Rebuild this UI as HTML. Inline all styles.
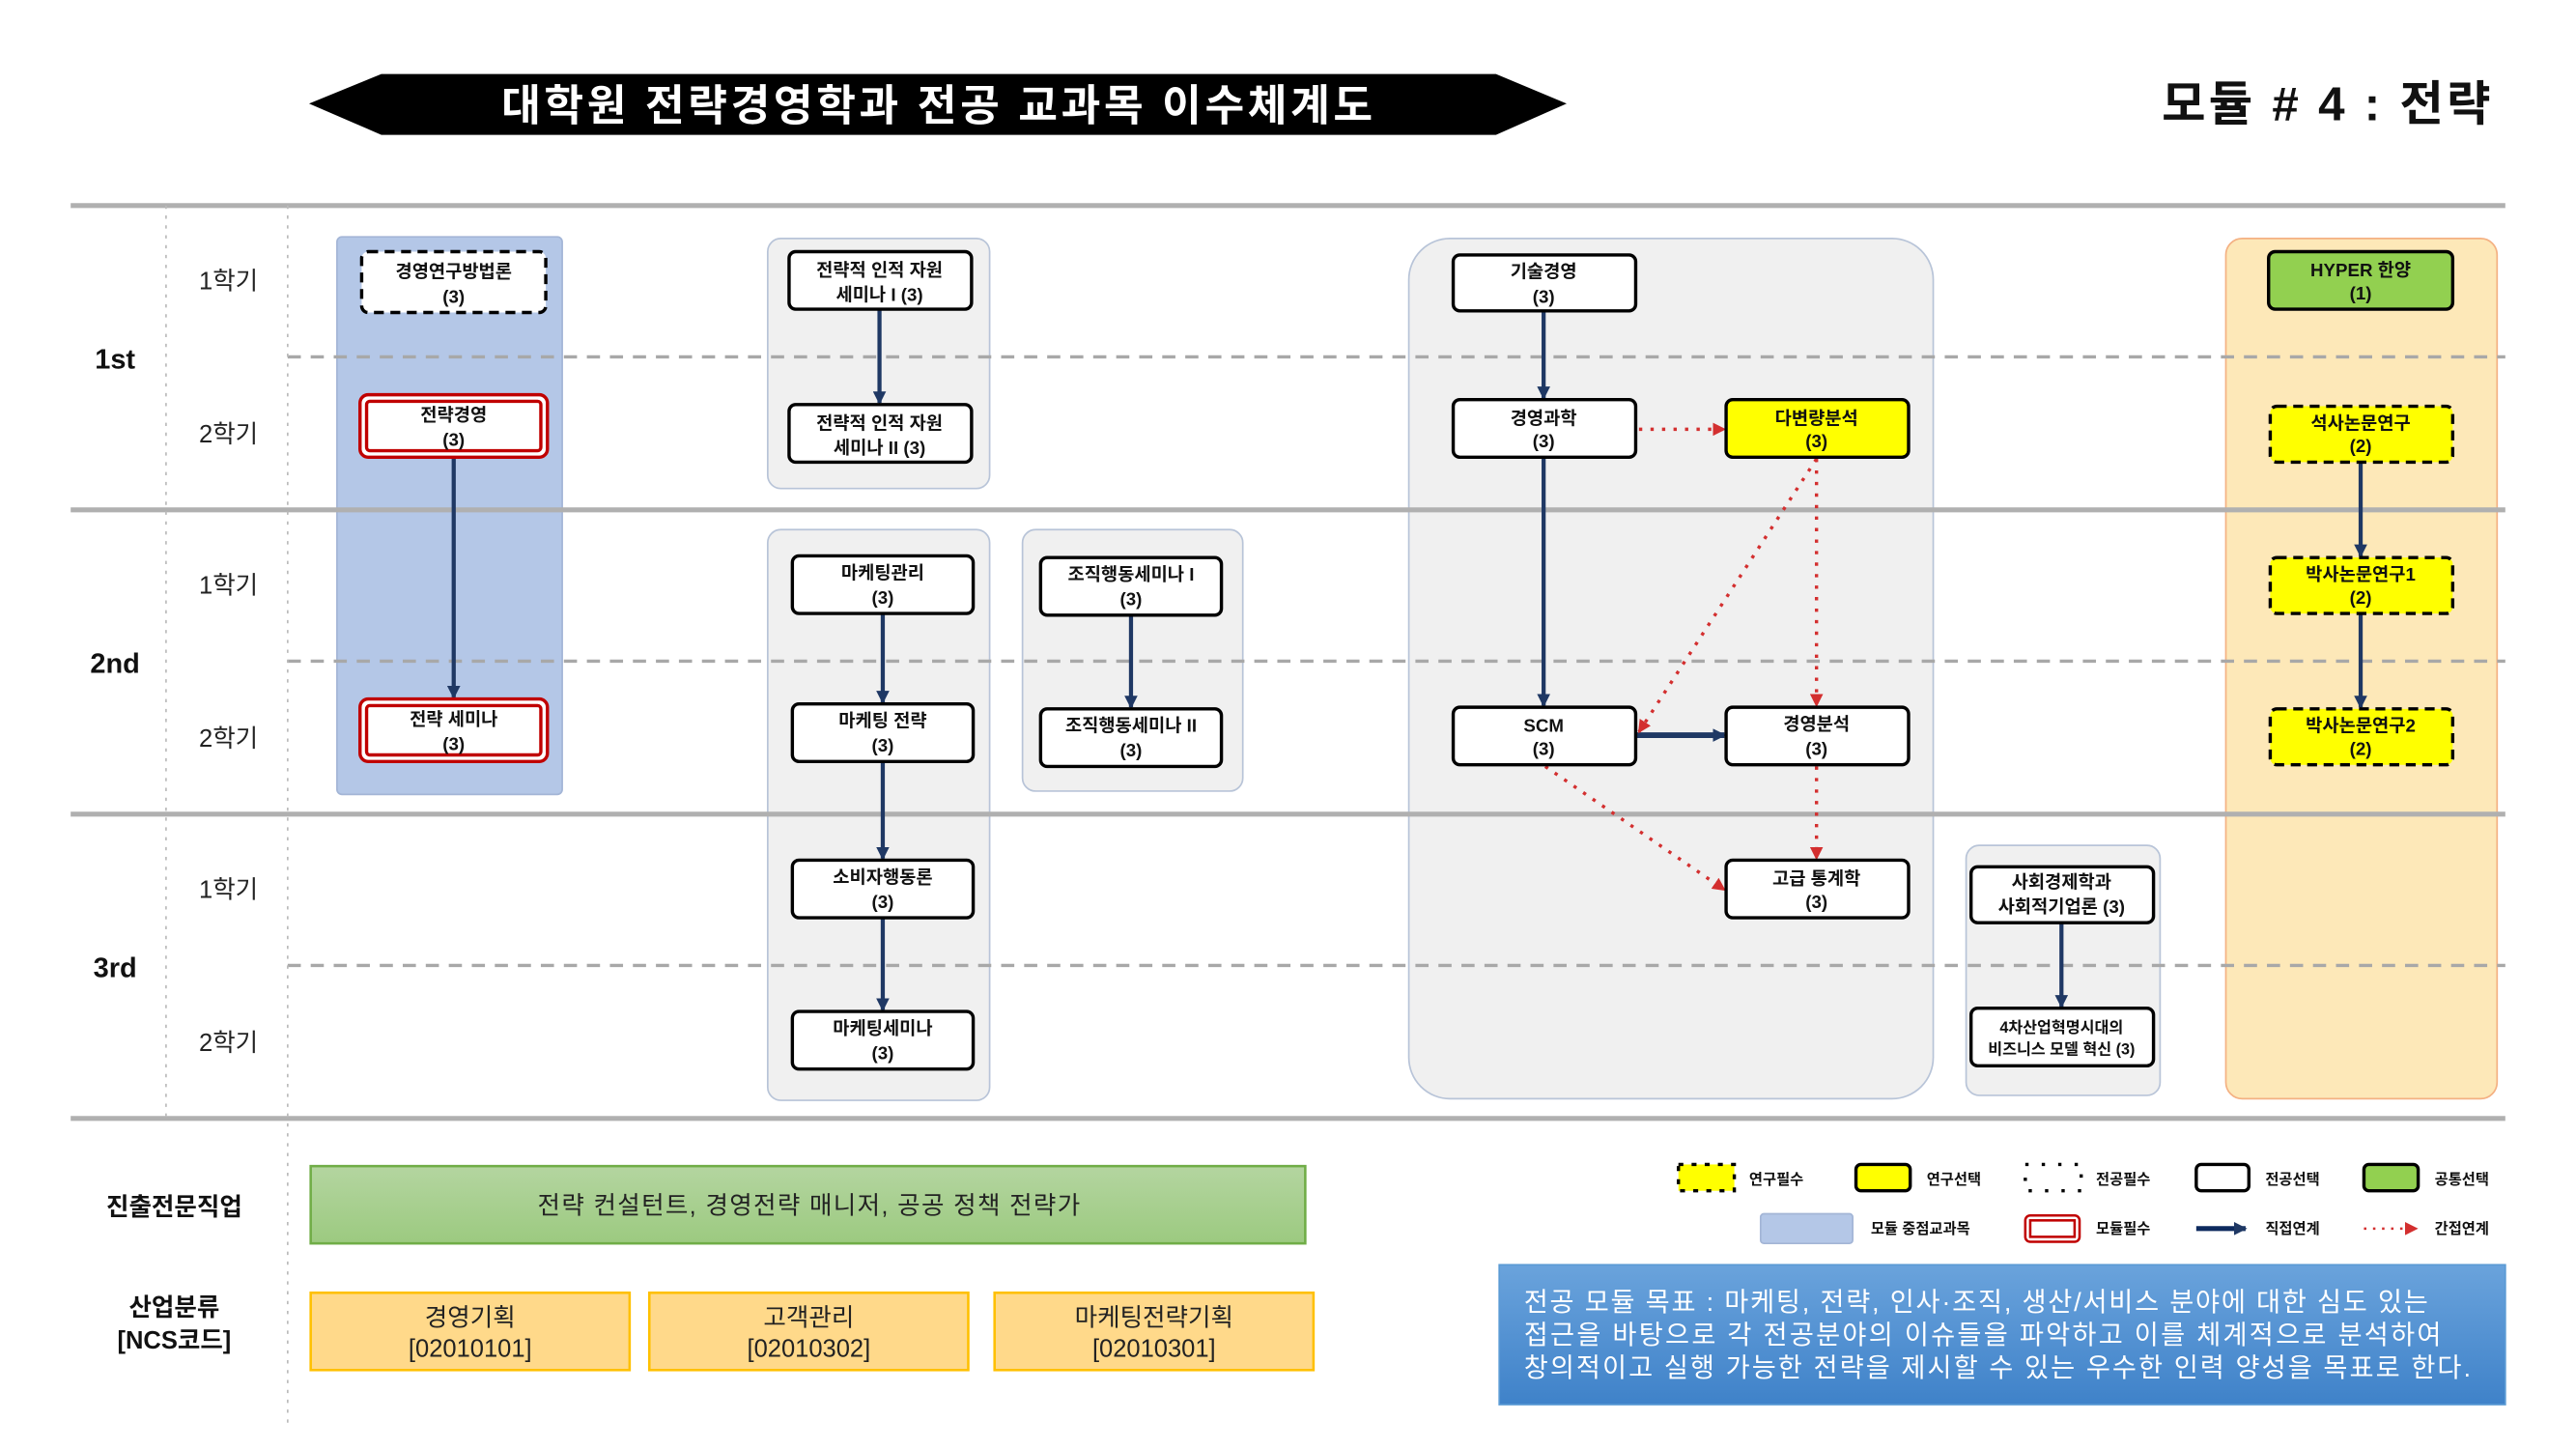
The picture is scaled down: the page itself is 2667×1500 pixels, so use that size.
<!DOCTYPE html>
<html><head><meta charset="utf-8"><style>
html,body{margin:0;padding:0;background:#fff;width:2667px;height:1500px;overflow:hidden}
svg{display:block}
text{font-family:"Liberation Sans","Noto Sans CJK KR",sans-serif}
.b{font-size:11px;font-weight:bold;text-anchor:middle;fill:#111}
.sem{font-size:15px;text-anchor:middle;fill:#222}
.yr{font-size:17px;font-weight:bold;text-anchor:middle;fill:#111}
.lg{font-size:9px;font-weight:bold;fill:#111}
</style></head><body>
<svg width="2667" height="1500" viewBox="0 0 1567 881" preserveAspectRatio="none">
<defs>
<marker id="ab" markerWidth="8" markerHeight="8" refX="7" refY="4" orient="auto" markerUnits="userSpaceOnUse"><path d="M0,0 L8,4 L0,8 z" fill="#1f3864"/></marker>
<marker id="ar" markerWidth="8" markerHeight="8" refX="7" refY="4" orient="auto" markerUnits="userSpaceOnUse"><path d="M0,0 L8,4 L0,8 z" fill="#d32f2f"/></marker>
<linearGradient id="gg" x1="0" y1="0" x2="0" y2="1"><stop offset="0" stop-color="#b4d5a0"/><stop offset="1" stop-color="#9cca80"/></linearGradient>
<linearGradient id="bg" x1="0" y1="0" x2="0" y2="1"><stop offset="0" stop-color="#6aa3dc"/><stop offset="1" stop-color="#3f82c9"/></linearGradient>
</defs>
<!-- title -->
<polygon points="188,63 232,45 910,45 953,63 910,82 232,82" fill="#000"/>
<text x="305" y="73" font-size="26" font-weight="bold" fill="#fff" textLength="530" lengthAdjust="spacing">대학원 전략경영학과  전공 교과목 이수체계도</text>
<text x="1315" y="73" font-size="29" font-weight="bold" fill="#111" textLength="200" lengthAdjust="spacing">모듈 # 4 : 전략</text>

<!-- groups -->
<rect x="205" y="144" width="137" height="339" rx="3" fill="#b4c7e7" stroke="#a3b5d6"/>
<rect x="467" y="145" width="135" height="152" rx="8" fill="#f0f0f0" stroke="#b8c4d8"/>
<rect x="467" y="322" width="135" height="347" rx="8" fill="#f0f0f0" stroke="#b8c4d8"/>
<rect x="622" y="322" width="134" height="159" rx="8" fill="#f0f0f0" stroke="#b8c4d8"/>
<rect x="857" y="145" width="319" height="523" rx="25" fill="#f0f0f0" stroke="#b8c4d8"/>
<rect x="1196" y="514" width="118" height="152" rx="8" fill="#f0f0f0" stroke="#b8c4d8"/>
<rect x="1354" y="145" width="165" height="523" rx="10" fill="#fde8b8" stroke="#f4b183"/>

<!-- grid lines -->
<g stroke="#b0b0b0" stroke-width="3">
<line x1="43" y1="125" x2="1524" y2="125"/><line x1="43" y1="310" x2="1524" y2="310"/>
<line x1="43" y1="495" x2="1524" y2="495"/><line x1="43" y1="680" x2="1524" y2="680"/>
</g>
<g stroke="#a8a8a8" stroke-width="2" stroke-dasharray="8,6">
<line x1="175" y1="217" x2="1524" y2="217"/><line x1="175" y1="402" x2="1524" y2="402"/><line x1="175" y1="587" x2="1524" y2="587"/>
</g>
<g stroke="#bbb" stroke-width="1" stroke-dasharray="2,4">
<line x1="101" y1="125" x2="101" y2="680"/><line x1="175" y1="125" x2="175" y2="865"/>
</g>
<text x="70" y="224" class="yr">1st</text><text x="70" y="409" class="yr">2nd</text><text x="70" y="594" class="yr">3rd</text>
<text x="139" y="176" class="sem">1학기</text><text x="139" y="269" class="sem">2학기</text>
<text x="139" y="361" class="sem">1학기</text><text x="139" y="454" class="sem">2학기</text>
<text x="139" y="546" class="sem">1학기</text><text x="139" y="639" class="sem">2학기</text>

<!-- arrows solid -->
<g stroke="#1f3864" stroke-width="2.5" fill="none" marker-end="url(#ab)">
<line x1="276" y1="278" x2="276" y2="424"/>
<line x1="535" y1="188" x2="535" y2="245"/>
<line x1="537" y1="373" x2="537" y2="427"/>
<line x1="537" y1="463" x2="537" y2="522"/>
<line x1="537" y1="558" x2="537" y2="614"/>
<line x1="688" y1="374" x2="688" y2="430"/>
<line x1="939" y1="189" x2="939" y2="242"/>
<line x1="939" y1="278" x2="939" y2="429"/>
<line x1="995" y1="447" x2="1049" y2="447" stroke-width="3.5"/>
<line x1="1254" y1="561" x2="1254" y2="612"/>
<line x1="1436" y1="281" x2="1436" y2="338"/>
<line x1="1436" y1="373" x2="1436" y2="430"/>
</g>
<!-- arrows dotted -->
<g stroke="#d32f2f" stroke-width="2" stroke-dasharray="2,5" fill="none" marker-end="url(#ar)">
<line x1="997" y1="261" x2="1049" y2="261"/>
<line x1="1105" y1="279" x2="997" y2="445"/>
<line x1="1105" y1="279" x2="1105" y2="429"/>
<line x1="940" y1="466" x2="1049" y2="541"/>
<line x1="1105" y1="466" x2="1105" y2="522"/>
</g>

<!-- boxes -->
<g stroke="#000" stroke-width="2">
<rect x="220" y="153" width="112" height="37" rx="4" fill="#fff" stroke-dasharray="6,4"/>
<rect x="219" y="240" width="114" height="38" rx="5" fill="#fff" stroke="#c00000" stroke-width="2"/>
<rect x="223" y="244" width="106" height="30" rx="2" fill="#fff" stroke="#c00000" stroke-width="2"/>
<rect x="219" y="425" width="114" height="38" rx="5" fill="#fff" stroke="#c00000" stroke-width="2"/>
<rect x="223" y="429" width="106" height="30" rx="2" fill="#fff" stroke="#c00000" stroke-width="2"/>
<rect x="480" y="153" width="111" height="35" rx="4" fill="#fff"/>
<rect x="480" y="246" width="111" height="35" rx="4" fill="#fff"/>
<rect x="482" y="338" width="110" height="35" rx="4" fill="#fff"/>
<rect x="482" y="428" width="110" height="35" rx="4" fill="#fff"/>
<rect x="482" y="523" width="110" height="35" rx="4" fill="#fff"/>
<rect x="482" y="615" width="110" height="35" rx="4" fill="#fff"/>
<rect x="633" y="339" width="110" height="35" rx="4" fill="#fff"/>
<rect x="633" y="431" width="110" height="35" rx="4" fill="#fff"/>
<rect x="884" y="155" width="111" height="34" rx="4" fill="#fff"/>
<rect x="884" y="243" width="111" height="35" rx="4" fill="#fff"/>
<rect x="1050" y="243" width="111" height="35" rx="4" fill="#ffff00"/>
<rect x="884" y="430" width="111" height="35" rx="4" fill="#fff"/>
<rect x="1050" y="430" width="111" height="35" rx="4" fill="#fff"/>
<rect x="1050" y="523" width="111" height="35" rx="4" fill="#fff"/>
<rect x="1199" y="527" width="111" height="34" rx="4" fill="#fff"/>
<rect x="1199" y="613" width="111" height="35" rx="4" fill="#fff"/>
<rect x="1380" y="153" width="112" height="35" rx="4" fill="#92d050"/>
<rect x="1381" y="247" width="111" height="34" rx="4" fill="#ffff00" stroke-dasharray="6,4"/>
<rect x="1381" y="339" width="111" height="34" rx="4" fill="#ffff00" stroke-dasharray="6,4"/>
<rect x="1381" y="431" width="111" height="34" rx="4" fill="#ffff00" stroke-dasharray="6,4"/>
</g>
<g class="b">
<text x="276" y="169" class="b">경영연구방법론</text><text x="276" y="184" class="b">(3)</text>
<text x="276" y="256" class="b">전략경영</text><text x="276" y="271" class="b">(3)</text>
<text x="276" y="441" class="b">전략 세미나</text><text x="276" y="456" class="b">(3)</text>
<text x="535" y="168" class="b">전략적 인적 자원</text><text x="535" y="183" class="b">세미나 I (3)</text>
<text x="535" y="261" class="b">전략적 인적 자원</text><text x="535" y="276" class="b">세미나 II (3)</text>
<text x="537" y="352" class="b">마케팅관리</text><text x="537" y="367" class="b">(3)</text>
<text x="537" y="442" class="b">마케팅 전략</text><text x="537" y="457" class="b">(3)</text>
<text x="537" y="537" class="b">소비자행동론</text><text x="537" y="552" class="b">(3)</text>
<text x="537" y="629" class="b">마케팅세미나</text><text x="537" y="644" class="b">(3)</text>
<text x="688" y="353" class="b">조직행동세미나 I</text><text x="688" y="368" class="b">(3)</text>
<text x="688" y="445" class="b">조직행동세미나 II</text><text x="688" y="460" class="b">(3)</text>
<text x="939" y="169" class="b">기술경영</text><text x="939" y="184" class="b">(3)</text>
<text x="939" y="258" class="b">경영과학</text><text x="939" y="272" class="b">(3)</text>
<text x="1105" y="258" class="b">다변량분석</text><text x="1105" y="272" class="b">(3)</text>
<text x="939" y="445" class="b">SCM</text><text x="939" y="459" class="b">(3)</text>
<text x="1105" y="444" class="b">경영분석</text><text x="1105" y="459" class="b">(3)</text>
<text x="1105" y="538" class="b">고급 통계학</text><text x="1105" y="552" class="b">(3)</text>
<text x="1254" y="540" class="b">사회경제학과</text><text x="1254" y="555" class="b">사회적기업론 (3)</text>
<text x="1254" y="628" class="b" style="font-size:9.5px">4차산업혁명시대의</text><text x="1254" y="641" class="b" style="font-size:9.5px">비즈니스 모델 혁신 (3)</text>
<text x="1436" y="168" class="b">HYPER 한양</text><text x="1436" y="182" class="b">(1)</text>
<text x="1436" y="261" class="b">석사논문연구</text><text x="1436" y="275" class="b">(2)</text>
<text x="1436" y="353" class="b">박사논문연구1</text><text x="1436" y="367" class="b">(2)</text>
<text x="1436" y="445" class="b">박사논문연구2</text><text x="1436" y="459" class="b">(2)</text>
</g>

<!-- bottom -->
<text x="106" y="739" font-size="15" font-weight="bold" text-anchor="middle" fill="#111">진출전문직업</text>
<text x="106" y="800" font-size="15" font-weight="bold" text-anchor="middle" fill="#111">산업분류</text>
<text x="106" y="820" font-size="15" font-weight="bold" text-anchor="middle" fill="#111">[NCS코드]</text>
<rect x="189" y="709" width="605" height="47" fill="url(#gg)" stroke="#70ad47" stroke-width="1.5"/>
<text x="327" y="738" font-size="15" fill="#222" textLength="330" lengthAdjust="spacing">전략 컨설턴트,  경영전략 매니저, 공공 정책 전략가</text>
<g fill="#ffd98a" stroke="#ffc000" stroke-width="1.5">
<rect x="189" y="786" width="194" height="47"/><rect x="395" y="786" width="194" height="47"/><rect x="605" y="786" width="194" height="47"/>
</g>
<g font-size="15" text-anchor="middle" fill="#222">
<text x="286" y="806">경영기획</text><text x="286" y="825">[02010101]</text>
<text x="492" y="806">고객관리</text><text x="492" y="825">[02010302]</text>
<text x="702" y="806">마케팅전략기획</text><text x="702" y="825">[02010301]</text>
</g>

<!-- legend -->
<rect x="1021" y="708" width="34" height="16" fill="#ffff00" stroke="#000" stroke-width="2" stroke-dasharray="3,5"/>
<text x="1064" y="720" class="lg">연구필수</text>
<rect x="1129" y="708" width="33" height="16" rx="3" fill="#ffff00" stroke="#000" stroke-width="2"/>
<text x="1172" y="720" class="lg">연구선택</text>
<rect x="1232" y="708" width="34" height="16" fill="none" stroke="#000" stroke-width="2" stroke-dasharray="2,8"/>
<text x="1275" y="720" class="lg">전공필수</text>
<rect x="1336" y="708" width="32" height="16" rx="3" fill="#fff" stroke="#000" stroke-width="2"/>
<text x="1378" y="720" class="lg">전공선택</text>
<rect x="1438" y="708" width="33" height="16" rx="3" fill="#92d050" stroke="#000" stroke-width="2"/>
<text x="1481" y="720" class="lg">공통선택</text>
<rect x="1071" y="738" width="56" height="18" rx="2" fill="#b4c7e7" stroke="#a3b5d6"/>
<text x="1138" y="750" class="lg">모듈 중점교과목</text>
<rect x="1232" y="739" width="33" height="16" rx="3" fill="#fff" stroke="#c00000" stroke-width="1.5"/>
<rect x="1235" y="742" width="27" height="10" fill="#fff" stroke="#c00000" stroke-width="1.5"/>
<text x="1275" y="750" class="lg">모듈필수</text>
<line x1="1336" y1="747" x2="1366" y2="747" stroke="#0d2a5e" stroke-width="3" marker-end="url(#ab)"/>
<text x="1378" y="750" class="lg">직접연계</text>
<line x1="1438" y1="747" x2="1470" y2="747" stroke="#d32f2f" stroke-width="1.5" stroke-dasharray="1.5,4" marker-end="url(#ar)"/>
<text x="1481" y="750" class="lg">간접연계</text>

<rect x="912" y="769" width="612" height="85" fill="url(#bg)" stroke="#5b9bd5"/>
<g font-size="16" fill="#fff">
<text x="927" y="797" textLength="550" lengthAdjust="spacing">전공 모듈 목표 : 마케팅, 전략, 인사·조직, 생산/서비스 분야에 대한 심도 있는</text>
<text x="927" y="817" textLength="558" lengthAdjust="spacing">접근을 바탕으로 각 전공분야의 이슈들을 파악하고 이를 체계적으로 분석하여</text>
<text x="927" y="837" textLength="576" lengthAdjust="spacing">창의적이고 실행 가능한 전략을 제시할 수 있는 우수한 인력 양성을 목표로 한다.</text>
</g>
</svg>
</body></html>
